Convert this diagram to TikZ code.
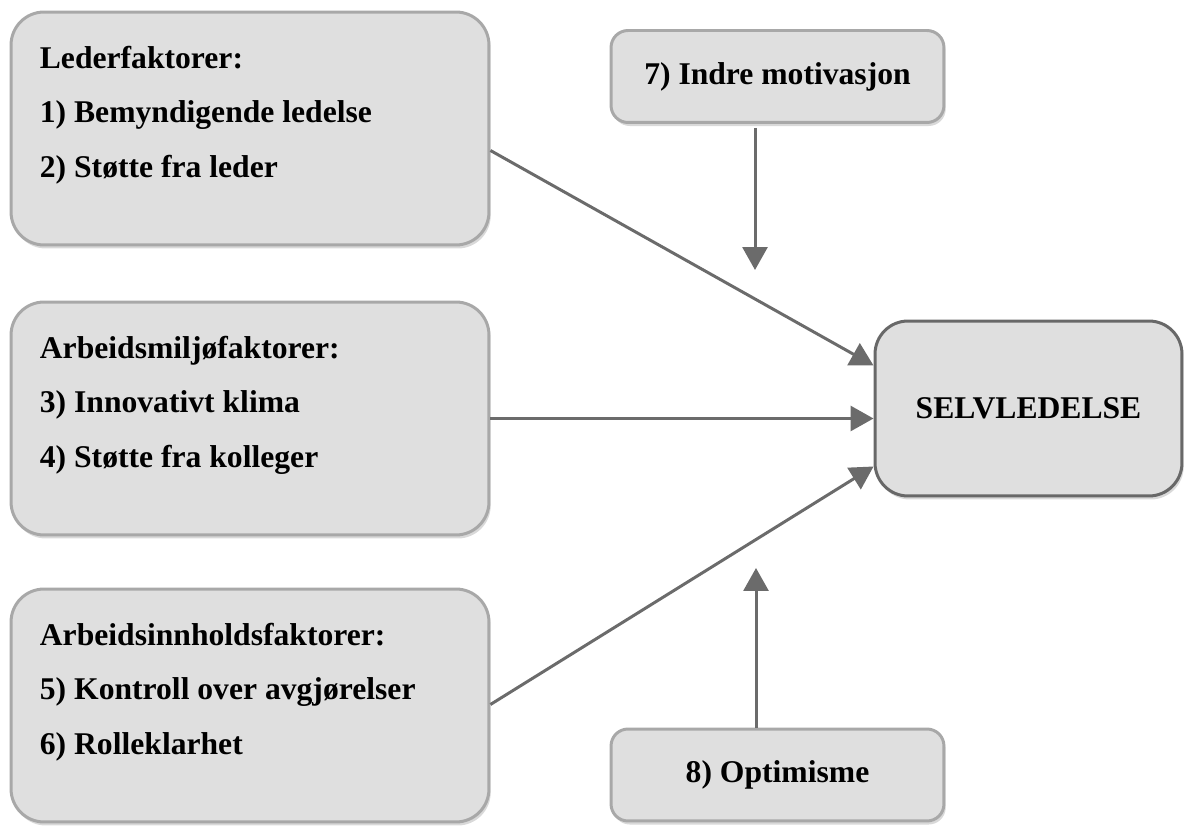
\documentclass[tikz,border=0pt]{standalone}
\usepackage{fontspec}
\setmainfont{Liberation Serif}
\usetikzlibrary{arrows.meta,calc,shadows}
\definecolor{boxfill}{HTML}{DFDFDF}
\definecolor{boxline}{HTML}{A8A8A8}
\definecolor{selvline}{HTML}{686868}
\definecolor{pilgray}{HTML}{6B6B6B}
\tikzset{
  boks/.style={draw=boxline,fill=boxfill,line width=1.7pt,
    drop shadow={shadow xshift=1pt,shadow yshift=-2pt,opacity=0.3}},
  faktor/.style={boks,rounded corners=0.66cm,minimum width=9.56cm,minimum height=4.66cm},
  liten/.style={boks,rounded corners=0.34cm,minimum width=6.66cm,minimum height=1.84cm,
    font=\bfseries\fontsize{18}{22}\selectfont},
  liste/.style={anchor=north west,inner sep=0pt,align=left,
    font=\bfseries\fontsize{18}{31.2}\selectfont},
  pil/.style={draw=pilgray,line width=1.7pt,-{Triangle[length=0.46cm,width=0.5cm]}}
}
\begin{document}
\begin{tikzpicture}[x=0.02cm,y=-0.02cm]
\useasboundingbox (0,0) rectangle (1184,827);
\node[faktor] (leder) at (250,128.5) {};
\node[faktor] (miljo) at (250,418.5) {};
\node[faktor] (innhold) at (250,705.5) {};
\node[liste] (ledertxt) at ($(leder.north west)+(30,35)$) {Lederfaktorer:\\1) Bemyndigende ledelse\\2) Støtte fra leder};
\node[liste] (miljotxt) at ($(miljo.north west)+(30,35)$) {Arbeidsmiljøfaktorer:\\3) Innovativt klima\\4) Støtte fra kolleger};
\node[liste] (innholdtxt) at ($(innhold.north west)+(30,35)$) {Arbeidsinnholdsfaktorer:\\5) Kontroll over avgjørelser\\6) Rolleklarhet};
\node[liten] (motiv) at (777.5,76.5) {7) Indre motivasjon};
\node[liten] (optim) at (777.5,775) {8) Optimisme};
\node[boks,draw=selvline,rounded corners=0.66cm,minimum width=6.14cm,minimum height=3.5cm,
  font=\bfseries\fontsize{18}{22}\selectfont] (selv) at (1028.5,408.5) {SELVLEDELSE};
\coordinate (motivpil) at (755,270);
\coordinate (optimpil) at (756,568);
\draw[pil] ($(leder.east)+(0,22)$) -- ($(selv.west)+(0,-43)$);
\draw[pil] (miljo.east) -- (selv.west |- miljo.east);
\draw[pil] ($(innhold.east)+(0,-1)$) -- ($(selv.west)+(0,58)$);
\draw[pil] ($(motiv.south)+(-22.5,4)$) -- (motivpil);
\draw[pil] ($(optim.north)+(-21.5,0)$) -- (optimpil);
\end{tikzpicture}
\end{document}
